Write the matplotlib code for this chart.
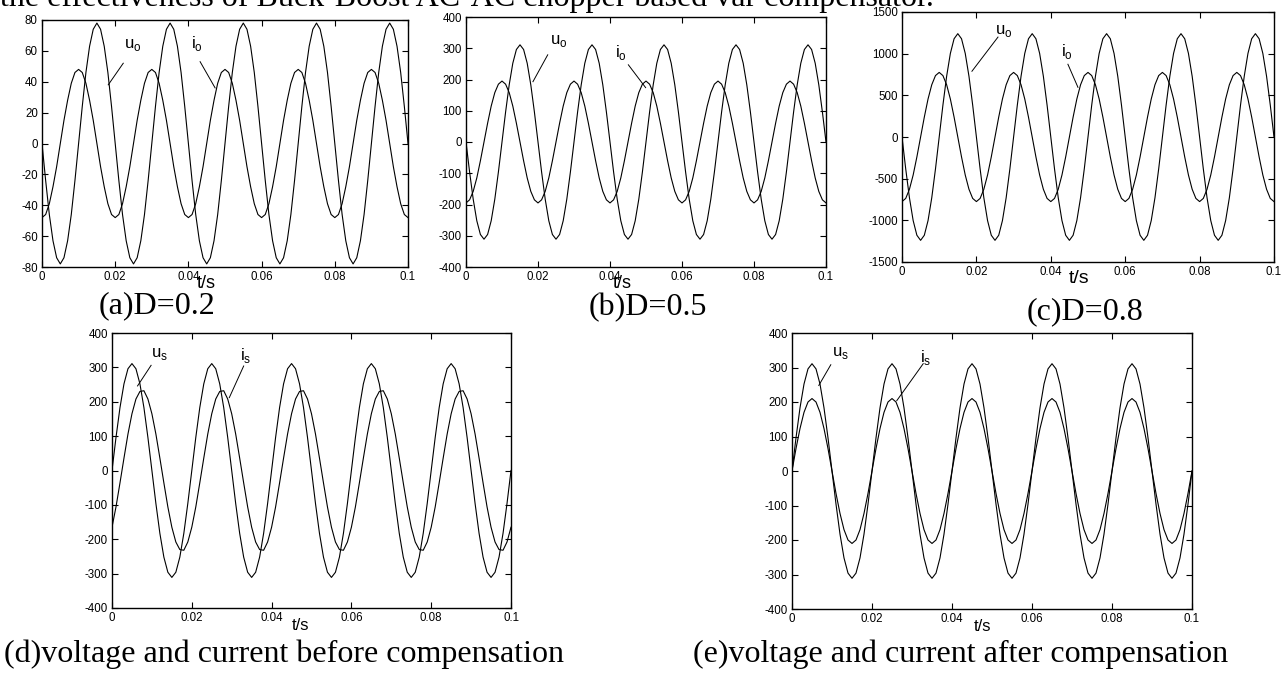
import matplotlib
matplotlib.use("Agg")
import matplotlib.pyplot as plt
import numpy as np

# ================== data ==================
# one 20 ms period of each waveform, read every 1 ms; the plots show 5 identical periods
T_STEP = 0.001
N_PERIODS = 5

# (a) D=0.2
a_uo = [0, -24, -46, -63, -74, -78, -74, -63, -46, -24, 0, 24, 46, 63, 74, 78, 74, 63, 46, 24]
a_io = [-48, -46, -39, -28, -15, 0, 15, 28, 39, 46, 48, 46, 39, 28, 15, 0, -15, -28, -39, -46]
# (b) D=0.5
b_uo = [0, -96, -183, -252, -296, -311, -296, -252, -183, -96, 0, 96, 183, 252, 296, 311, 296, 252, 183, 96]
b_io = [-195, -185, -158, -115, -60, 0, 60, 115, 158, 185, 195, 185, 158, 115, 60, 0, -60, -115, -158, -185]
# (c) D=0.8
c_uo = [0, -383, -729, -1003, -1179, -1240, -1179, -1003, -729, -383,
        0, 383, 729, 1003, 1179, 1240, 1179, 1003, 729, 383]
c_io = [-775, -737, -627, -456, -239, 0, 239, 456, 627, 737,
        775, 737, 627, 456, 239, 0, -239, -456, -627, -737]
# (d) before compensation
d_us = [0, 96, 183, 252, 296, 311, 296, 252, 183, 96, 0, -96, -183, -252, -296, -311, -296, -252, -183, -96]
d_is = [-165, -106, -36, 36, 106, 165, 208, 230, 232, 208, 165, 106, 36, -36, -106, -165, -208, -230, -232, -208]
# (e) after compensation
e_us = [0, 96, 183, 252, 296, 311, 296, 252, 183, 96, 0, -96, -183, -252, -296, -311, -296, -252, -183, -96]
e_is = [0, 65, 123, 170, 200, 210, 200, 170, 123, 65, 0, -65, -123, -170, -200, -210, -200, -170, -123, -65]

x_ticks = [0, 0.02, 0.04, 0.06, 0.08, 0.1]
x_tick_labels = ["0", "0.02", "0.04", "0.06", "0.08", "0.1"]
a_yticks = [-80, -60, -40, -20, 0, 20, 40, 60, 80]
b_yticks = [-400, -300, -200, -100, 0, 100, 200, 300, 400]
c_yticks = [-1500, -1000, -500, 0, 500, 1000, 1500]
de_yticks = [-400, -300, -200, -100, 0, 100, 200, 300, 400]

captions = ["(a)D=0.2", "(b)D=0.5", "(c)D=0.8",
            "(d)voltage and current before compensation",
            "(e)voltage and current after compensation"]
top_line = "the effectiveness of Buck-Boost AC-AC chopper based var compensator."

# ================== layout (pixels in a 1288x675 figure) ==================
W, H = 1288, 675
SANS = ["Liberation Sans", "DejaVu Sans"]
SERIF = ["Liberation Serif", "DejaVu Serif"]
plt.rcParams['mathtext.fontset'] = 'custom'
plt.rcParams['mathtext.rm'] = 'Liberation Sans'


def repeat_period(vals):
    vals = np.asarray(vals, dtype=float)
    return np.concatenate([np.tile(vals, N_PERIODS), vals[:1]])


t = np.arange(len(a_uo) * N_PERIODS + 1) * T_STEP

# box = (left, right, top, bottom) px; labels = (text, text_xy, leader_from, leader_to)
panels = [
    dict(box=(42, 408, 20, 267), curves=(a_uo, a_io), yticks=a_yticks, tlabel_x=0.45, tlabel_size=13,
         labels=[(r"u$_\mathregular{o}$", (0.0248, 64), (0.0222, 52), (0.0181, 38)),
                 (r"i$_\mathregular{o}$", (0.0424, 65), (0.0432, 53), (0.0473, 36))]),
    dict(box=(466, 826, 17, 267), curves=(b_uo, b_io), yticks=b_yticks, tlabel_x=0.435, tlabel_size=13,
         labels=[(r"u$_\mathregular{o}$", (0.0257, 322), (0.0227, 279), (0.0186, 193)),
                 (r"i$_\mathregular{o}$", (0.043, 287), (0.0451, 247), (0.0499, 174))]),
    dict(box=(902, 1274, 12, 262), curves=(c_uo, c_io), yticks=c_yticks, tlabel_x=0.475, tlabel_size=14,
         labels=[(r"u$_\mathregular{o}$", (0.0274, 1275), (0.0258, 1199), (0.0188, 789)),
                 (r"i$_\mathregular{o}$", (0.0443, 1025), (0.0446, 873), (0.0473, 596))]),
    dict(box=(112, 511, 333, 608), curves=(d_us, d_is), yticks=de_yticks, tlabel_x=0.473, tlabel_size=12,
         labels=[(r"u$_\mathregular{s}$", (0.0118, 340), (0.0098, 306), (0.0064, 246)),
                 (r"i$_\mathregular{s}$", (0.0336, 336), (0.033, 304), (0.0294, 212))]),
    dict(box=(792, 1192, 333, 609), curves=(e_us, e_is), yticks=de_yticks, tlabel_x=0.477, tlabel_size=12,
         labels=[(r"u$_\mathregular{s}$", (0.012, 342), (0.0097, 308), (0.0067, 248)),
                 (r"i$_\mathregular{s}$", (0.0334, 330), (0.0328, 311), (0.0262, 204))]),
]
# caption centre positions (px)
caption_pos = [(157, 306), (648, 308), (1085, 312), (284, 654), (961, 654)]

fig = plt.figure(figsize=(W / 100, H / 100), dpi=100, facecolor='white')

for p in panels:
    l, r, top, bot = p['box']
    ax = fig.add_axes([l / W, 1 - bot / H, (r - l) / W, (bot - top) / H])
    for vals in p['curves']:
        ax.plot(t, repeat_period(vals), color='black', linewidth=0.8)
    ax.set_xlim(0, 0.1)
    ax.set_ylim(p['yticks'][0], p['yticks'][-1])
    ax.set_xticks(x_ticks)
    ax.set_xticklabels(x_tick_labels, family=SANS)
    ax.set_yticks(p['yticks'])
    ax.set_yticklabels([str(v) for v in p['yticks']], family=SANS)
    ax.tick_params(direction='in', top=True, right=True, length=4, width=0.8,
                   labelsize=8.3, pad=3, colors='black')
    for spine in ax.spines.values():
        spine.set_linewidth(1.0)
    ax.text(p['tlabel_x'], -0.065, "t/s", transform=ax.transAxes, ha='center', va='center',
            fontsize=p['tlabel_size'], family=SANS)
    for txt, txy, lfrom, lto in p['labels']:
        ax.text(txy[0], txy[1], txt, ha='center', va='center', fontsize=12, family=SANS)
        ax.plot([lfrom[0], lto[0]], [lfrom[1], lto[1]], color='black', linewidth=0.7)

for cap, (cx, cy) in zip(captions, caption_pos):
    fig.text(cx / W, 1 - cy / H, cap, ha='center', va='center', fontsize=23, family=SERIF)

# half-visible line of text cut off at the top edge
fig.text(0.0, 1 - 6 / H, top_line, ha='left', va='baseline', fontsize=23, family=SERIF)

fig.savefig("out.png", dpi=100, facecolor='white')
